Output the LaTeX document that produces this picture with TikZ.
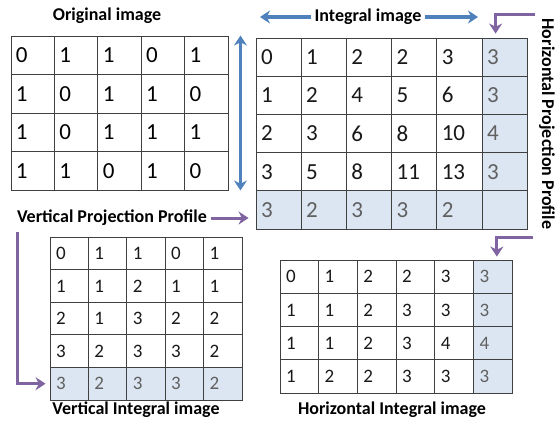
\documentclass[tikz,border=0pt]{standalone}
\usepackage{fontspec}
\setmainfont{Carlito}
\usetikzlibrary{arrows.meta}

\definecolor{gridline}{HTML}{404040}
\definecolor{shade}{HTML}{DCE6F2}
\definecolor{digitgray}{HTML}{606060}
\definecolor{arrowblue}{HTML}{4F81BD}
\definecolor{arrowpurple}{HTML}{8064A2}

\tikzset{
	cell/.style={draw=gridline, line width=0.9pt, inner ysep=0pt, align=left},
	bigcell/.style={cell, inner xsep=5pt, font=\fontsize{23}{26}\selectfont},
	smallcell/.style={cell, inner xsep=6pt, font=\fontsize{19}{22}\selectfont},
	lbl/.style={font=\bfseries\fontsize{18}{21}\selectfont},
	bluearr/.style={arrowblue, line width=3.2pt},
	purparr/.style={arrowpurple, line width=3pt, ->}
}

\begin{document}
\begin{tikzpicture}[x=1pt, y=-1pt, >={Stealth[length=10pt,width=13pt]}]

\useasboundingbox[fill=white] (0,0) rectangle (560,421);

%original image
\node[lbl] (orig-lbl) at (107,16) {Original image};
\foreach \row [count=\r] in {{0,1,1,0,1},{1,0,1,1,0},{1,0,1,1,1},{1,1,0,1,0}}{
	\foreach \v [count=\c] in \row {
		\node[bigcell, text width=33.4pt, minimum height=38.5pt] (o-\r-\c) at ({11+(\c-0.5)*43.4},{36+(\r-0.5)*38.5}) {\v};
	}
}

%integral image
\node[lbl] (int-lbl) at (368,17) {Integral image};
\foreach \row [count=\r] in {{0,1,2,2,3,3},{1,2,4,5,6,3},{2,3,6,8,10,4},{3,5,8,11,13,3},{3,2,3,3,2,{}}}{
	\foreach \v [count=\c] in \row {
		\def\cf{white}\def\tc{black!90}
		\ifnum\r=5 \def\cf{shade}\def\tc{digitgray}\fi
		\ifnum\c=6 \def\cf{shade}\def\tc{digitgray}\fi
		\node[bigcell, fill=\cf, text=\tc, text width=35.2pt, minimum height=38.2pt] (i-\r-\c) at ({256+(\c-0.5)*45.2},{38+(\r-0.5)*38.2}) {\v};
	}
}

%vertical integral image
\node[lbl] (vint-lbl) at (136,410) {Vertical Integral image};
\foreach \row [count=\r] in {{0,1,1,0,1},{1,1,2,1,1},{2,1,3,2,2},{3,2,3,3,2},{3,2,3,3,2}}{
	\foreach \v [count=\c] in \row {
		\def\cf{white}\def\tc{black!90}
		\ifnum\r=5 \def\cf{shade}\def\tc{digitgray}\fi
		\node[smallcell, fill=\cf, text=\tc, text width=26.4pt, minimum height=32.6pt] (v-\r-\c) at ({50+(\c-0.5)*38.4},{237+(\r-0.5)*32.6}) {\v};
	}
}

%horizontal integral image
\node[lbl] (hint-lbl) at (392,410) {Horizontal Integral image};
\foreach \row [count=\r] in {{0,1,2,2,3,3},{1,1,2,3,3,3},{1,1,2,3,4,4},{1,2,2,3,3,3}}{
	\foreach \v [count=\c] in \row {
		\def\cf{white}\def\tc{black!90}
		\ifnum\c=6 \def\cf{shade}\def\tc{digitgray}\fi
		\node[smallcell, fill=\cf, text=\tc, text width=26.7pt, minimum height=33.3pt] (h-\r-\c) at ({280+(\c-0.5)*38.7},{260+(\r-0.5)*33.3}) {\v};
	}
}

%projection profiles
\node[lbl] (vpp-lbl) at (112,218) {Vertical Projection Profile};
\node[lbl, rotate=-90] (hpp-lbl) at (547,124) {Horizontal Projection Profile};

%blue arrows
\coordinate (int-l) at (260,17);
\coordinate (int-r) at (478,17);
\draw[bluearr, ->] (int-lbl.west) -- (int-l);
\draw[bluearr, ->] (int-lbl.east) -- (int-r);
\draw[bluearr, <->] ([xshift=12pt]o-1-5.north east) -- ([xshift=12pt]o-4-5.south east);

%purple arrows
\coordinate (hpp-a) at (535,14);
\coordinate (hpp-b) at (533,237);
\coordinate (vpp-d) at (17,232);
\draw[purparr, shorten >=4pt] (hpp-a) -| ([xshift=-9pt]i-1-6.north);
\draw[purparr, shorten >=3pt] (hpp-b) -| ([xshift=4pt]h-1-6.north);
\draw[purparr, shorten >=7pt] (vpp-lbl.east) -- (vpp-lbl.east -| i-5-1.west);
\draw[purparr, shorten >=4pt] (vpp-d) |- (v-5-1.west);

\end{tikzpicture}
\end{document}
